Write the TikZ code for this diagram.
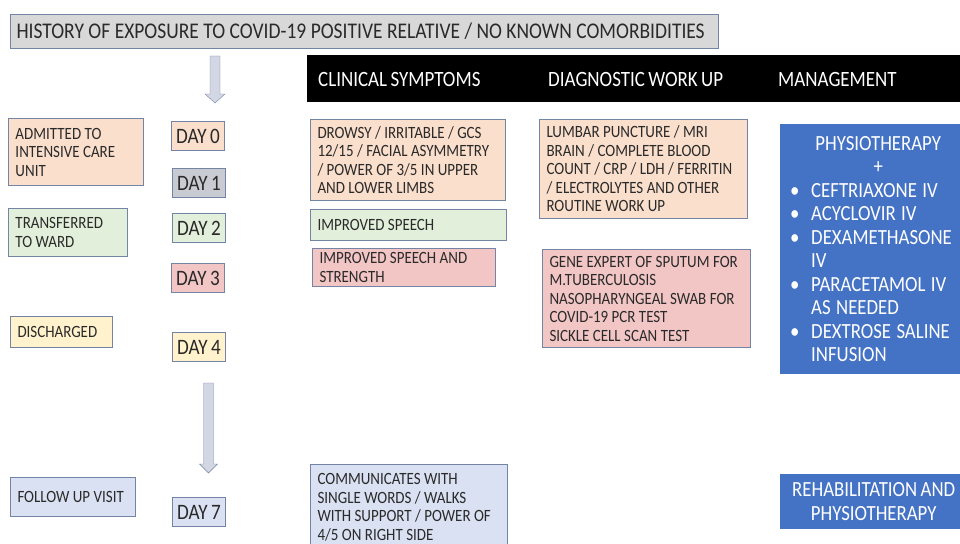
\documentclass[tikz,border=0pt]{standalone}
\usepackage{fontspec}
\setmainfont{Carlito}[FakeStretch=0.87,WordSpace=0.8]
\definecolor{edge}{HTML}{7484A4}
\definecolor{ink}{HTML}{2A2A2A}
\definecolor{titlegray}{HTML}{D8D8D8}
\definecolor{peach}{HTML}{FADFCC}
\definecolor{mint}{HTML}{E2EFDA}
\definecolor{rose}{HTML}{F3C6C6}
\definecolor{cream}{HTML}{FFF2CC}
\definecolor{lavender}{HTML}{DAE1F2}
\definecolor{slate}{HTML}{C9CBD3}
\definecolor{arrowfill}{HTML}{D2D7E3}
\definecolor{mgmtblue}{HTML}{4472C4}

\begin{document}
\begin{tikzpicture}[x=1pt,y=-1pt,
        box/.style={draw=edge,line width=1pt,anchor=north west,align=left,
            inner xsep=7pt,inner ysep=0pt,text=ink,
            font=\fontsize{17.2}{18.5}\selectfont,
            execute at begin node={\spaceskip=0.2em\relax}},
        daybox/.style={draw=edge,line width=1pt,anchor=north west,inner sep=0pt,
            minimum width=53pt,minimum height=29pt,text=ink,
            font=\fontsize{22}{24}\selectfont},
        head/.style={text=white,anchor=west,inner sep=0pt,
            font=\fontsize{21.8}{24}\selectfont},
        mgmtbox/.style={fill=mgmtblue,anchor=north west,text=white,inner ysep=0pt,
            font=\fontsize{21.6}{23.5}\selectfont}]
        \useasboundingbox (0,0) rectangle (960,543);
        \clip (0,0) rectangle (960,543);

        \node[box,fill=titlegray,text width=696pt,inner xsep=6pt,minimum height=34pt,
            font=\fontsize{22.4}{24}\selectfont] (history) at (10,14)
            {HISTORY OF EXPOSURE TO COVID-19 POSITIVE RELATIVE / NO KNOWN COMORBIDITIES};

        % column headings
        \node[fill=black,anchor=north west,inner sep=0pt,
            minimum width=660pt,minimum height=47pt] (bar) at (307,55) {};
        \node[head] (symptoms) at (318,80) {CLINICAL SYMPTOMS};
        \node[head] (workup) at (548,80) {DIAGNOSTIC WORK UP};
        \node[head] (management) at (778,80) {MANAGEMENT};

        % hollow arrows of the time line
        \foreach \x/\ya/\yb/\w in {215/56/103/10, 208.5/383/473/9}
        {
            \draw[draw=edge,fill=arrowfill] (\x-5,\ya) -- (\x+5,\ya) -- (\x+5,\yb-9)
                -- (\x+\w,\yb-9) -- (\x,\yb) -- (\x-\w,\yb-9) -- (\x-5,\yb-9) -- cycle;
        }

        % where the patient is
        \node[box,fill=peach,text width=121pt,minimum height=67pt] (icu) at (8,118)
            {ADMITTED TO\\INTENSIVE CARE\\UNIT};
        \node[box,fill=mint,text width=105pt,minimum height=48pt] (ward) at (8,208)
            {TRANSFERRED\\TO WARD};
        \node[box,fill=cream,text width=88pt,minimum height=31pt] (discharged) at (10,316)
            {DISCHARGED};
        \node[box,fill=lavender,text width=111pt,minimum height=39pt] (followup) at (10,477)
            {FOLLOW UP VISIT};

        % days
        \node[daybox,fill=peach] (day0) at (171,121) {DAY 0};
        \node[daybox,fill=slate] (day1) at (172,168) {DAY 1};
        \node[daybox,fill=mint] (day2) at (172,213) {DAY 2};
        \node[daybox,fill=rose] (day3) at (171,263) {DAY 3};
        \node[daybox,fill=cream] (day4) at (172,332) {DAY 4};
        \node[daybox,fill=lavender] (day7) at (172,497) {DAY 7};

        % clinical symptoms
        \node[box,fill=peach,text width=181pt,minimum height=81pt] (drowsy) at (310,119)
            {DROWSY / IRRITABLE / GCS\\12/15 / FACIAL ASYMMETRY\\/ POWER OF 3/5 IN UPPER\\AND LOWER LIMBS};
        \node[box,fill=mint,text width=182pt,minimum height=31pt] (speech) at (310,209)
            {IMPROVED SPEECH};
        \node[box,fill=rose,text width=169pt,minimum height=38pt] (strength) at (312,248)
            {IMPROVED SPEECH AND\\STRENGTH};
        \node[box,fill=lavender,text width=183pt,minimum height=86pt] (communicates) at (310,464)
            {COMMUNICATES WITH\\SINGLE WORDS / WALKS\\WITH SUPPORT / POWER OF\\4/5 ON RIGHT SIDE};

        % diagnostic work up
        \node[box,fill=peach,text width=194pt,minimum height=99pt] (lumbar) at (539,119)
            {LUMBAR PUNCTURE / MRI\\BRAIN / COMPLETE BLOOD\\COUNT / CRP / LDH / FERRITIN\\/ ELECTROLYTES AND OTHER\\ROUTINE WORK UP};
        \node[box,fill=rose,text width=194pt,minimum height=98pt] (gene) at (542,249)
            {GENE EXPERT OF SPUTUM FOR\\M.TUBERCULOSIS\\NASOPHARYNGEAL SWAB FOR\\COVID-19 PCR TEST\\SICKLE CELL SCAN TEST};

        % management
        \node[mgmtbox,text width=176pt,inner xsep=10pt,minimum height=250pt,align=left,
            execute at begin node={\spaceskip=0.25em\relax}] (treatment) at (780,124)
            {\makebox[176pt]{PHYSIOTHERAPY}\\
             \makebox[176pt]{+}\\
             \makebox[21pt][l]{\textbullet}CEFTRIAXONE IV\\
             \makebox[21pt][l]{\textbullet}ACYCLOVIR IV\\
             \makebox[21pt][l]{\textbullet}DEXAMETHASONE\\
             \hspace*{21pt}IV\\
             \makebox[21pt][l]{\textbullet}PARACETAMOL IV\\
             \hspace*{21pt}AS NEEDED\\
             \makebox[21pt][l]{\textbullet}DEXTROSE SALINE\\
             \hspace*{21pt}INFUSION};
        \node[mgmtbox,minimum width=187pt,minimum height=55pt,align=center] (rehab) at (780,474)
            {REHABILITATION AND\\PHYSIOTHERAPY};
\end{tikzpicture}
\end{document}
